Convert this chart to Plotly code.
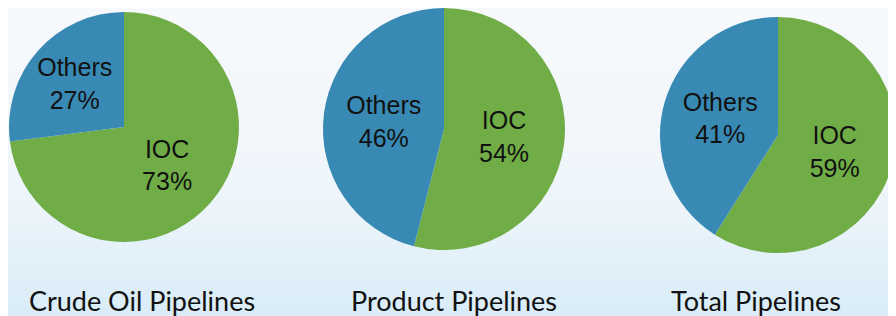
import plotly.graph_objects as go

labels = ["IOC", "Others"]
crude_oil = [73, 27]
product = [54, 46]
total = [59, 41]
titles = ["Crude Oil Pipelines", "Product Pipelines", "Total Pipelines"]

# page has an 8px body margin; figure coordinates are page coordinates minus OFF
OFF = 8
W, H = 896 - OFF, 316 - OFF
colors = ["#70AD47", "#388AB4"]

# pie boxes in page pixels (x0, x1, ytop0, ytop1)
boxes = [(9, 239, 12, 242), (321, 567, 4, 250), (660, 896, 17, 253)]
title_x = [142, 454, 756]
title_y = 300


def px(x):
    return (x - OFF) / W


def py(y):
    return 1 - (y - OFF) / H


fig = go.Figure()

# background gradient
fig.add_trace(go.Scatter(
    x=[0, 1, 1, 0, 0], y=[0, 0, 1, 1, 0], mode="lines", fill="toself",
    line=dict(width=0), hoverinfo="skip", showlegend=False,
    fillgradient=dict(type="vertical",
                      colorscale=[[0, "#d9ecf7"], [0.2, "#e3f1f9"], [0.38, "#eef5fa"], [1, "#f7f9fc"]]),
    xaxis="x", yaxis="y"))

for vals, (x0, x1, t0, t1) in zip([crude_oil, product, total], boxes):
    fig.add_trace(go.Pie(
        labels=labels, values=vals, sort=False, direction="clockwise", rotation=0,
        marker=dict(colors=colors, line=dict(width=0)),
        textinfo="label+percent", texttemplate="%{label}<br>%{percent:.0%}",
        textposition="inside", insidetextorientation="horizontal",
        textfont=dict(family="Liberation Sans, Arial", size=25, color="#111111"),
        domain=dict(x=[max(px(x0), 0), min(px(x1), 1)], y=[py(t1), min(py(t0), 1)]),
        showlegend=False, hoverinfo="label+percent"))

for t, tx in zip(titles, title_x):
    fig.add_annotation(text=t, x=px(tx), y=py(title_y), xref="paper", yref="paper",
                       showarrow=False, xanchor="center", yanchor="middle",
                       font=dict(family="Lato, Open Sans", size=27, color="#111111"))

fig.update_layout(
    width=W, height=H, margin=dict(l=0, r=0, t=0, b=0),
    paper_bgcolor="#f7f9fc", plot_bgcolor="rgba(0,0,0,0)",
    xaxis=dict(range=[0, 1], domain=[0, 1], visible=False, fixedrange=True),
    yaxis=dict(range=[0, 1], domain=[0, 1], visible=False, fixedrange=True),
    showlegend=False,
)

fig.write_html("out.html")
